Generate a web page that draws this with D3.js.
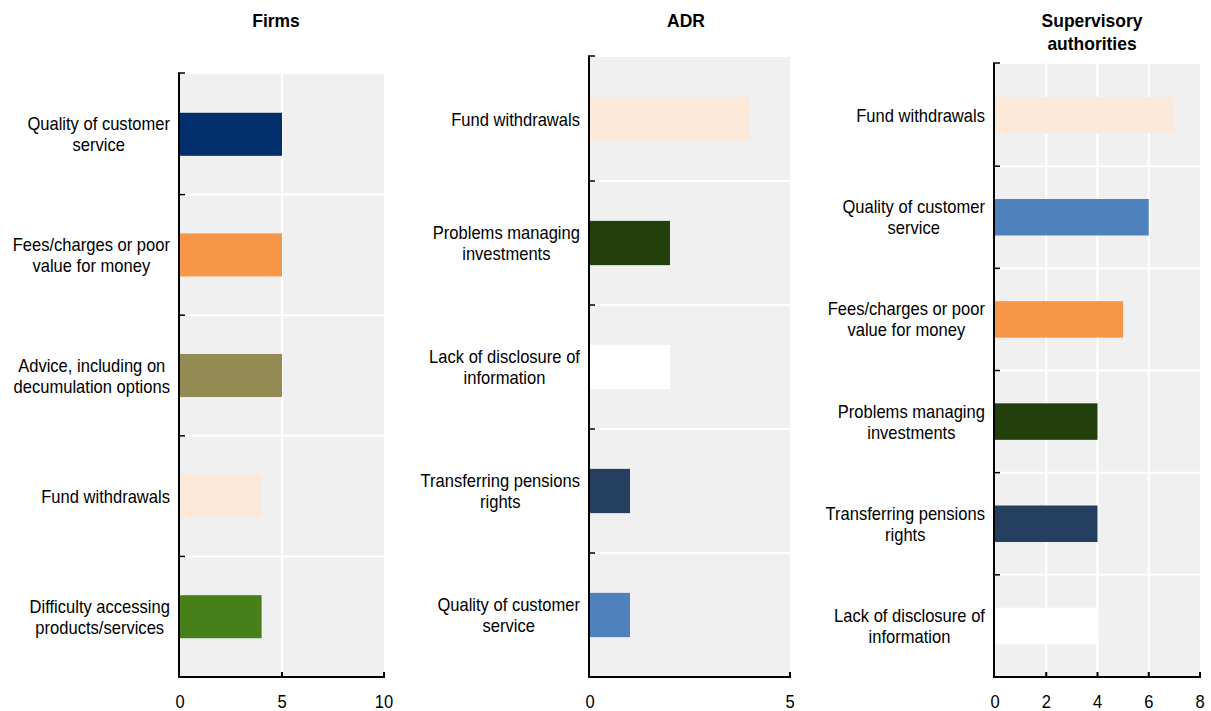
<!DOCTYPE html>
<html><head><meta charset="utf-8">
<script src="https://cdn.jsdelivr.net/npm/d3@7"></script>
<style>
html,body{margin:0;padding:0;background:#fff;}
svg{display:block;font-family:"Liberation Sans",Arial,sans-serif;}
</style></head>
<body>
<svg id="chart" width="1211" height="711"></svg>
<script>
// ---- data ----
const panelTitles = [["Firms"], ["ADR"], ["Supervisory", "authorities"]];

const firmsCategories = ["Quality of customer\nservice", "Fees/charges or poor\nvalue for money", "Advice, including on\ndecumulation options", "Fund withdrawals", "Difficulty accessing\nproducts/services"];
const firmsValues = [5, 5, 5, 4, 4];
const firmsTicks = [0, 5, 10];

const adrCategories = ["Fund withdrawals", "Problems managing\ninvestments", "Lack of disclosure of\ninformation", "Transferring pensions\nrights", "Quality of customer\nservice"];
const adrValues = [4, 2, 2, 1, 1];
const adrTicks = [0, 5];

const supCategories = ["Fund withdrawals", "Quality of customer\nservice", "Fees/charges or poor\nvalue for money", "Problems managing\ninvestments", "Transferring pensions\nrights", "Lack of disclosure of\ninformation"];
const supValues = [7, 6, 5, 4, 4, 4];
const supTicks = [0, 2, 4, 6, 8];

// ---- styles ----
const firmsColors = ["#002F6C", "#F79646", "#948B54", "#FDE9DA", "#477F18"];
const adrColors = ["#FDE9DA", "#223F0C", "#FFFFFF", "#243F60", "#4F81BD"];
const supColors = ["#FDE9DA", "#4F81BD", "#F79646", "#223F0C", "#243F60", "#FFFFFF"];

const layout = [
  {x0: 180, x1: 384, y0: 74, y1: 677, titleX: 276},
  {x0: 590, x1: 790, y0: 57, y1: 677, titleX: 686},
  {x0: 995, x1: 1200, y0: 64, y1: 677, titleX: 1092}
];

const panels = [
  {cats: firmsCategories, vals: firmsValues, ticks: firmsTicks, colors: firmsColors},
  {cats: adrCategories, vals: adrValues, ticks: adrTicks, colors: adrColors},
  {cats: supCategories, vals: supValues, ticks: supTicks, colors: supColors}
];

const svg = d3.select("#chart");
const SX = 0.92;        // horizontal text compression
const labelSize = 18, tickSize = 18, titleSize = 18;

panels.forEach((p, pi) => {
  const L = layout[pi];
  const g = svg.append("g");
  const x = d3.scaleLinear().domain([0, d3.max(p.ticks)]).range([L.x0, L.x1]);
  const y = d3.scaleBand().domain(p.cats).range([L.y0, L.y1]).paddingInner(0.643).paddingOuter(0.3215);
  const step = y.step();

  // background
  g.append("rect").attr("x", L.x0).attr("y", L.y0).attr("width", L.x1 - L.x0).attr("height", L.y1 - L.y0).attr("fill", "#F0F0F0");

  // vertical gridlines
  g.selectAll(".vg").data(p.ticks.filter(t => t > 0 && t < d3.max(p.ticks))).join("line")
    .attr("x1", d => x(d)).attr("x2", d => x(d)).attr("y1", L.y0).attr("y2", L.y1)
    .attr("stroke", "#fff").attr("stroke-width", 2);

  // horizontal separators
  const bounds = p.cats.slice(1).map(c => y(c) - (step - y.bandwidth()) / 2);
  g.selectAll(".hg").data(bounds).join("line")
    .attr("x1", L.x0).attr("x2", L.x1).attr("y1", d => d).attr("y2", d => d)
    .attr("stroke", "#fff").attr("stroke-width", 2);

  // bars
  g.selectAll(".bar").data(p.vals).join("rect")
    .attr("x", x(0)).attr("y", (d, i) => y(p.cats[i]))
    .attr("width", d => x(d) - x(0)).attr("height", y.bandwidth())
    .attr("fill", (d, i) => p.colors[i]);

  // left axis line + ticks
  g.append("line").attr("x1", L.x0 - 1).attr("x2", L.x0 - 1).attr("y1", L.y0 - 1).attr("y2", L.y1 + 1)
    .attr("stroke", "#000").attr("stroke-width", 2);
  g.selectAll(".lt").data([L.y0 - 1].concat(bounds)).join("line")
    .attr("x1", L.x0 - 2).attr("x2", L.x0 + 5).attr("y1", d => d).attr("y2", d => d)
    .attr("stroke", "#000").attr("stroke-width", 1.5);

  // bottom axis
  g.append("line").attr("x1", L.x0 - 2).attr("x2", L.x1 + 1).attr("y1", L.y1).attr("y2", L.y1)
    .attr("stroke", "#000").attr("stroke-width", 2);
  g.selectAll(".bt").data(p.ticks.filter(t => t > 0)).join("line")
    .attr("x1", d => x(d)).attr("x2", d => x(d)).attr("y1", L.y1).attr("y2", L.y1 - 5)
    .attr("stroke", "#000").attr("stroke-width", 2);
  g.selectAll(".tl").data(p.ticks).join("text")
    .attr("transform", d => `translate(${x(d)},${L.y1 + 31}) scale(${SX},1)`)
    .attr("text-anchor", "middle").attr("font-size", tickSize).attr("fill", "#000")
    .text(d => d);

  // category labels
  p.cats.forEach(c => {
    const lines = c.split("\n");
    const cy = y(c) + y.bandwidth() / 2;
    const tg = g.append("g");
    const texts = lines.map((ln, i) => tg.append("text")
      .attr("text-anchor", "middle").attr("font-size", labelSize).attr("fill", "#000")
      .text(ln));
    const maxW = d3.max(texts, t => t.node().getComputedTextLength()) * SX;
    const cx = L.x0 - 10 - maxW / 2;
    texts.forEach((t, i) => {
      const by = cy + (i - (lines.length - 1) / 2) * 21 + 6.5;
      t.attr("transform", `translate(${cx},${by}) scale(${SX},1)`);
    });
  });

  // title
  panelTitles[pi].forEach((ln, i) => {
    g.append("text")
      .attr("transform", `translate(${L.titleX},${27 + i * 23}) scale(0.97,1)`)
      .attr("text-anchor", "middle").attr("font-size", titleSize).attr("font-weight", "bold").attr("fill", "#000")
      .text(ln);
  });
});
</script>
</body></html>
